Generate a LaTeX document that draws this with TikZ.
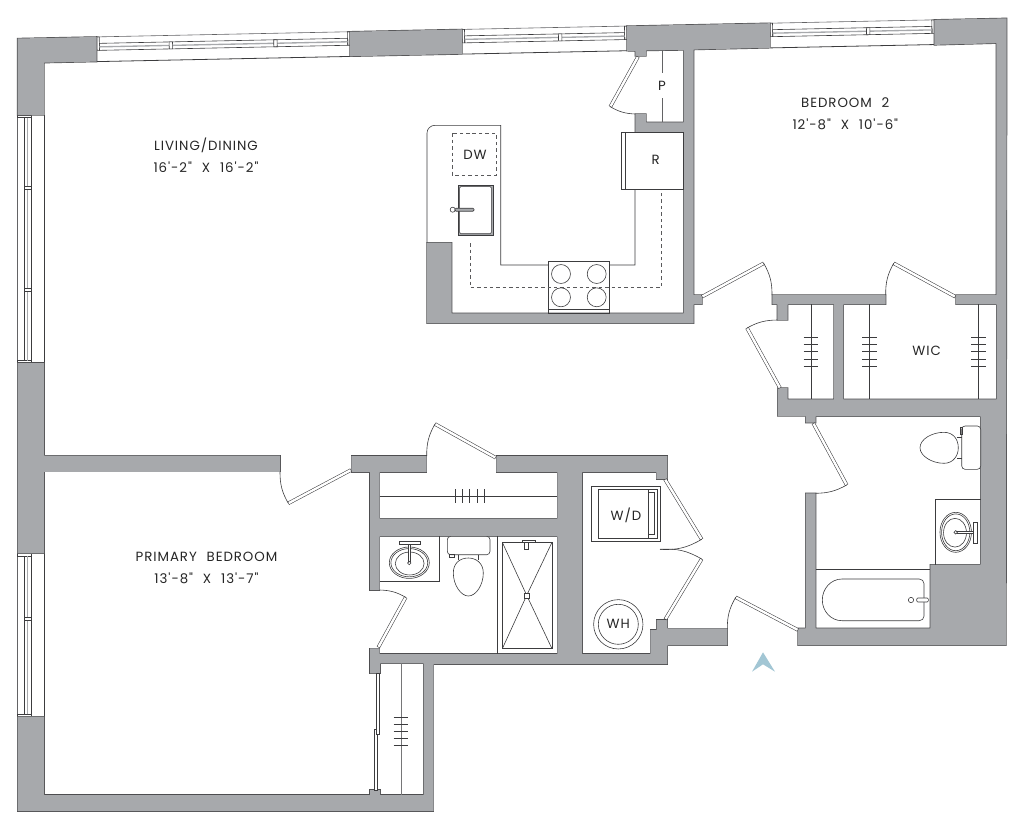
\documentclass[tikz,border=0pt]{standalone}
\usepackage{fontspec}
\newfontfamily\planfont[LetterSpace=7,WordSpace=2.2]{Poppins}
\definecolor{wallgrey}{HTML}{A7A9AC}
\definecolor{walledge}{HTML}{4D4D4F}
\definecolor{ink}{HTML}{3C3C3E}
\definecolor{northblue}{HTML}{A2C6D4}
\tikzset{
  wall/.style={fill=wallgrey,preaction={draw=walledge,line width=1pt}},
  fixture/.style={draw=ink,line width=.45pt},
  hidden/.style={draw=ink!85,line width=.45pt,dashed,dash pattern=on 2.6pt off 2.2pt},
  doorleaf/.style={draw=ink,line width=2.6pt,postaction={draw=white,line width=1.8pt,shorten >=.4pt,shorten <=.4pt}},
  slider/.style={draw=ink,line width=.5pt,fill=white},
  roomlabel/.style={text=black!85,align=center,inner sep=0pt,font=\planfont\fontsize{10}{16.3}\selectfont},
}
% one window: x, y, rotation, length, depth, mullions
\newcommand{\windowbay}[6]{
  \begin{scope}[shift={(#1,#2)},rotate=#3]
    \draw[fixture,draw=ink!80] (0,0) -- (#4,0);
    \draw[fixture,line width=.6pt] (0,#5) -- (#4,#5);
    \draw[fixture] (0,0) rectangle (2.5,13.5);
    \draw[fixture] (#4-2.5,0) rectangle (#4,13.5);
    \draw[fixture] (2.5,6.5) rectangle (#4-2.5,13.5);
    \draw[draw=wallgrey,line width=1pt] (2.5,10) -- (#4-2.5,10);
    \foreach \m in {#6}
      \draw[fixture,fill=white] (\m-1.7,6.5) rectangle (\m+1.7,13.5);
  \end{scope}
}
% closet rod hangers, horizontal rod ticks are drawn the same way
\newcommand{\hangers}[1]{
  \foreach \t in {337.7,344.7,351.7,359,366}
    \draw[fixture] (#1-7.3,\t) -- (#1+7.3,\t);
}
\begin{document}
\begin{tikzpicture}[x=.75pt,y=-.75pt]
  \useasboundingbox (0,0) rectangle (1024,829);

  % Windows
  \windowbay{96.7}{36.9}{1.17}{253.4}{24.7}{74,178.6}
  \windowbay{462}{29.4}{1.17}{165}{24.7}{98}
  \windowbay{770}{23.2}{1.17}{164.3}{24.7}{98}
  \windowbay{17.5}{363}{90}{248}{26.5}{73,175.5}
  \windowbay{17.5}{716.7}{90}{163.4}{26.5}{97.7}

  % Walls
  \path[wall] (17.5,38.5) -- (96.7,36.9) -- (96.7,61.6) -- (44,62.7) -- (44,115) -- (17.5,115) -- cycle;
  \path[wall] (350,31.7) -- (462,29.4) -- (462,54) -- (350,56.3) -- cycle;
  \path[wall] (17.5,363) -- (44,363) -- (44,455.5) -- (280,455.5) -- (280,471.8) -- (44,471.8)
    -- (44,553.3) -- (17.5,553.3) -- cycle;
  % kitchen and top wall
  \path[wall] (627,26.1) -- (770,23.2) -- (770,47.8) -- (693.7,49.6) -- (693.7,295) -- (702,295)
    -- (702,304.3) -- (693.7,304.3) -- (693.7,323.3) -- (427,323.3) -- (427,242.7) -- (451.7,242.7)
    -- (451.7,313.3) -- (683.7,313.3) -- (683.7,132.3) -- (635.3,132.3) -- (635.3,114) -- (646,114)
    -- (646,122.3) -- (683.7,122.3) -- (683.7,50) -- (646,50.5) -- (646,56) -- (635.3,56)
    -- (635.3,51) -- (627,50.8) -- cycle;
  % right side
  \path[wall] (772.3,295) -- (772.3,304.3) -- (777.3,304.3) -- (777.3,320) -- (787.7,320) -- (787.7,304.3)
    -- (834,304.3) -- (834,399.3) -- (787.7,399.3) -- (787.7,388) -- (777.7,388) -- (777.7,416)
    -- (805.7,416) -- (805.7,422.7) -- (815.7,422.7) -- (815.7,416.3) -- (980.7,416.3) -- (980.7,564.7)
    -- (930.3,564.7) -- (930.3,628.3) -- (815.7,628.3) -- (815.7,493.3) -- (805.7,493.3) -- (805.7,628.3)
    -- (798,628.3) -- (798,645.3) -- (1006,645.3) -- (1006.7,18.3) -- (934.3,19.8) -- (934.3,44.9)
    -- (996.3,43.2) -- (996.3,295) -- (956,295) -- (956,304.3) -- (996.7,304.3) -- (996.7,399.3)
    -- (843.3,399.3) -- (843.3,304.3) -- (885.7,304.3) -- (885.7,295) -- cycle;
  % baths, laundry and primary bedroom
  \path[wall] (351.3,456) -- (426.7,456) -- (426.7,472) -- (379.7,472) -- (379.7,518.7) -- (557.3,518.7)
    -- (557.3,472) -- (496.3,472) -- (496.3,456) -- (667.3,456) -- (667.3,479) -- (656.3,479)
    -- (656.3,472) -- (582,472) -- (582,654) -- (650.3,654) -- (650.3,630) -- (656.7,630) -- (656.7,620)
    -- (667.3,620) -- (667.3,628.3) -- (727.3,628.3) -- (727.3,645.3) -- (667.3,645.3) -- (667.3,664)
    -- (433.7,664) -- (433.7,811) -- (17.5,811) -- (17.5,716.7) -- (44,716.7) -- (44,795) -- (370,795)
    -- (370,790) -- (380,790) -- (380,795) -- (423.7,795) -- (423.7,663.3) -- (380,663.3) -- (380,673.3)
    -- (370,673.3) -- (370,648.3) -- (379.7,648.3) -- (379.7,654) -- (557.3,654) -- (557.3,536.3)
    -- (379.7,536.3) -- (379.7,590) -- (370,590) -- (370,472) -- (351.3,472) -- cycle;

  % Doors: hinge, tip, end of swing, bend
  \foreach \hx/\hy/\tx/\ty/\ex/\ey/\turn in {
      638/56.7/610.3/106.7/635.3/114/-14, 702/296.7/763.7/263.3/772/295/15,
      955.3/296.7/893.7/263.3/885.7/295/-15, 780/388/747/328/777.3/320/14,
      813.3/423.3/846.7/485/815.7/493.3/14, 798/630/735.7/597.3/727.3/628.3/-15,
      665/479.3/701.7/539.3/660/549.3/17, 665.3/619.3/701.7/559/660/549.3/-17,
      495.7/457.7/435/424/426.7/456/-15, 351/470/288.3/503.3/280/471.7/15,
      378.3/647.3/405.7/597.3/379.7/590/-14} {
    \draw[doorleaf] (\hx,\hy) -- (\tx,\ty);
    \draw[fixture] (\tx,\ty) to[bend left=\turn] (\ex,\ey);
  }
  \draw[slider] (374,729.3) rectangle (377.3,790);
  \draw[slider] (376,673.3) rectangle (379.3,734.3);

  % Kitchen
  \draw[fixture] (427,242.7) -- (427,133) to[out=90,in=180] (435,125.3) -- (500.7,125.3) -- (500.7,265)
    -- (548.3,265) (609,265) -- (635,265) -- (635,189.3);
  \draw[fixture,line width=.6pt] (548.3,261.3) rectangle (609,313.3);
  \draw[fixture] (548.3,309.3) -- (609,309.3);
  \draw[hidden] (470.3,243.3) -- (470.3,287.7) -- (661,287.7) -- (661,189.3);
  \draw[hidden] (452.3,133.3) rectangle (496,175);
  \foreach \bx in {561,596.7}
    \foreach \by in {274,297.3}
      \draw[fixture] (\bx,\by) circle[radius=7.1pt];
  \draw[fixture,fill=wallgrey] (458,185) rectangle (493,235.3);
  \draw[fixture,fill=white,rounded corners=1pt] (459.6,186.6) rectangle (491.4,233.7);
  \draw[fixture,fill=white] (452.7,209.7) circle[radius=1.9pt];
  \draw[fixture,fill=wallgrey,rounded corners=.8pt] (455,208.2) rectangle (474,211.2);
  \draw[fixture,fill=white] (621,132.3) rectangle (625.7,189.3);
  \draw[fixture,fill=white] (625.7,132.3) rectangle (683.7,189.3);
  \draw[fixture,draw=ink!80] (662,50) -- (662,73) (662,98) -- (662,122.3);

  % Closets
  \draw[fixture] (811,304.3) -- (811,399.3);
  \draw[fixture] (869.7,304.3) -- (869.7,399.3);
  \draw[fixture] (978.7,304.3) -- (978.7,399.3);
  \hangers{811} \hangers{869.7} \hangers{978.7}
  \draw[fixture] (379.7,496.3) -- (557.3,496.3);
  \foreach \t in {455.7,462.7,469.7,477,484}
    \draw[fixture] (\t,489.3) -- (\t,503.3);
  \draw[fixture,draw=ink!70,line width=.6pt] (401,663.3) -- (401,795);
  \foreach \t in {717,724,731,738,745}
    \draw[fixture] (393.7,\t) -- (408.3,\t);

  % Primary bath
  \draw[fixture] (379.7,581.7) -- (439,581.7) -- (439,536.3);
  \draw[fixture] (409.3,562.7) ellipse[x radius=15pt,y radius=11.8pt];
  \draw[fixture] (409.3,562.7) ellipse[x radius=13.8pt,y radius=10.6pt];
  \draw[fixture] (409.7,563.5) ellipse[x radius=10.8pt,y radius=8.6pt];
  \draw[fixture,fill=white] (399,541.5) rectangle (420,544);
  \draw[fixture,fill=white] (408.5,544) rectangle (410.2,562);
  \draw[fixture,fill=white] (409.3,563) circle[radius=1.3pt];
  \draw[fixture,fill=white,rounded corners=2.5pt] (447.3,536.3) rectangle (490,554.7);
  \draw[fixture] (449,554.7) rectangle (454,557);
  \draw[fixture] (458.7,554.7) -- (458.7,560) (478.3,554.7) -- (478.3,560);
  \draw[fixture,fill=white] (468.3,558) .. controls (460,558) and (453.3,563) .. (453.3,573)
    .. controls (453.3,585) and (461,596) .. (468.3,596)
    .. controls (476,596) and (483.3,585) .. (483.3,573)
    .. controls (483.3,563) and (476,558) .. cycle;
  \draw[fixture] (497.3,536.3) -- (497.3,654);
  \draw[fixture] (502.3,542.3) rectangle (552,648.7);
  \draw[fixture] (502.3,542.3) -- (526.7,595.3) -- (552,542.3) (502.3,648.7) -- (526.7,595.3) -- (552,648.7);
  \draw[fixture,fill=white] (524.2,592.8) rectangle (529.2,597.8);
  \draw[fixture,fill=white] (522.7,540.7) rectangle (535,542.3);
  \draw[fixture,fill=white] (524,542.3) rectangle (528.3,549.3);

  % Laundry
  \draw[fixture] (591.7,486.7) rectangle (660.3,541);
  \draw[fixture] (598.7,489) rectangle (657.7,538.3);
  \draw[fixture,line width=.6pt] (648.3,489) -- (648.3,538.3);
  \draw[fixture] (648.3,492.3) rectangle (654.3,534.3);
  \draw[fixture] (618.3,624.3) circle[radius=18.5pt];
  \draw[fixture] (618.3,624.3) circle[radius=15pt];

  % Second bath
  \draw[fixture,fill=white,rounded corners=2.5pt] (961.7,426) rectangle (980.7,469.3);
  \draw[fixture] (960,427.3) rectangle (962.7,434);
  \draw[fixture] (957,437.3) -- (961.7,437.3) (957,458.3) -- (961.7,458.3);
  \draw[fixture,fill=white] (958.3,447.8) .. controls (958.3,439) and (953,432.3) .. (944,432.3)
    .. controls (932,432.3) and (920,439) .. (920,447.8)
    .. controls (920,456) and (932,463.3) .. (944,463.3)
    .. controls (953,463.3) and (958.3,456) .. cycle;
  \draw[fixture] (980.7,499.3) -- (935.7,499.3) -- (935.7,564.7);
  \draw[fixture] (955.7,532.3) ellipse[x radius=11.8pt,y radius=15pt];
  \draw[fixture] (955.7,532.3) ellipse[x radius=10.6pt,y radius=13.8pt];
  \draw[fixture] (955,532.7) ellipse[x radius=8.6pt,y radius=10.8pt];
  \draw[fixture,fill=white] (973.3,522.7) rectangle (977.3,543.3);
  \draw[fixture,fill=white] (956.5,531.5) rectangle (973.3,533.2);
  \draw[fixture,fill=white] (955.7,532.3) circle[radius=1.3pt];
  \draw[fixture] (815.7,569.3) -- (930.3,569.3);
  \draw[fixture,rounded corners=3.5pt] (842,579) -- (924,579) -- (924,620.7) -- (842,620.7);
  \draw[fixture] (842,579) to[out=180,in=90] (822.3,600) to[out=-90,in=180] (842,620.7);
  \draw[fixture] (911,600) circle[radius=2pt];
  \draw[fixture,fill=white,rounded corners=.8pt] (916.7,598) rectangle (928.3,602);

  % North arrow
  \fill[northblue] (763,652.3) -- (775,671.7) -- (763,664.3) -- (752,671.7) -- cycle;

  % Labels
  \node[roomlabel] (living) at (206,155) {LIVING/DINING\\16'-2" X 16'-2"};
  \node[roomlabel] (bedroomtwo) at (845.3,113.5) {BEDROOM 2\\12'-8" X 10'-6"};
  \node[roomlabel] (primary) at (206.5,568) {PRIMARY BEDROOM\\13'-8" X 13'-7"};
  \node[roomlabel] (wic) at (926.7,351.3) {WIC};
  \node[roomlabel] (dw) at (475,154.7) {DW};
  \node[roomlabel] (pantry) at (662,86) {P};
  \node[roomlabel] (fridge) at (655.7,160) {R};
  \node[roomlabel] (washer) at (626,515) {W/D};
  \node[roomlabel] (heater) at (618.3,624.3) {WH};
\end{tikzpicture}
\end{document}
